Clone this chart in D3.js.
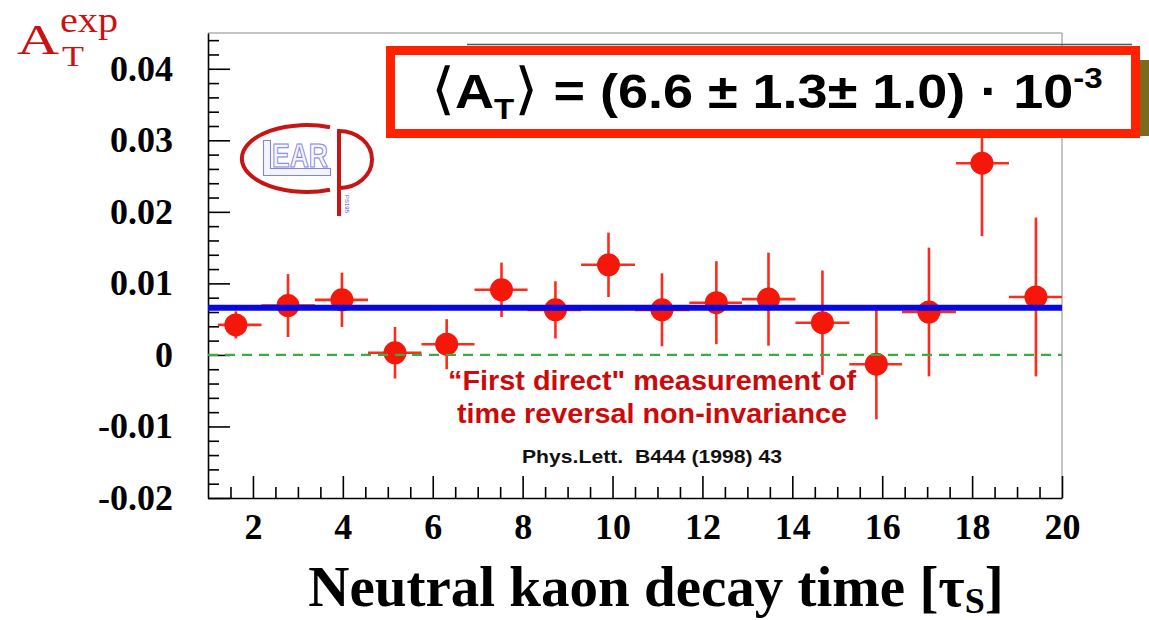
<!DOCTYPE html>
<html>
<head>
<meta charset="utf-8">
<script src="https://cdn.jsdelivr.net/npm/d3@7"></script>
<style>
  body { margin: 0; background: #fff; }
  svg { display: block; }
</style>
</head>
<body>
<svg id="chart" width="1149" height="620"></svg>
<script>
// CPLEAR time-reversal asymmetry versus neutral kaon decay time (units of tau_S)
const binLow    = [1.22, 2.19, 3.38, 4.56, 5.75, 6.93, 8.11, 9.30, 10.50, 11.71, 12.88, 14.07, 15.27, 16.44, 17.64, 18.82];
const binHigh   = [2.19, 3.38, 4.56, 5.75, 6.93, 8.11, 9.30, 10.50, 11.71, 12.88, 14.07, 15.27, 16.44, 17.64, 18.82, 20.00];
const meanTime  = [1.62, 2.78, 3.98, 5.16, 6.31, 7.53, 8.73, 9.91, 11.10, 12.31, 13.47, 14.67, 15.87, 17.04, 18.22, 19.42];
const asymmetry = [0.0042, 0.0069, 0.0077, 0.0003, 0.0015, 0.0091, 0.0063, 0.0126, 0.0063, 0.0073, 0.0078, 0.0045, -0.0013, 0.0060, 0.0268, 0.0081];
const asymError = [0.0019, 0.0044, 0.0038, 0.0036, 0.0035, 0.0038, 0.0040, 0.0045, 0.0051, 0.0058, 0.0065, 0.0073, 0.0077, 0.0090, 0.0102, 0.0111];

// Fitted mean asymmetry with statistical and systematic errors (units of 1e-3)
const averageAT = 0.0066;
const statError = "1.3";
const systError = "1.0";

const xTickValues = [2, 4, 6, 8, 10, 12, 14, 16, 18, 20];
const yTickValues = [-0.02, -0.01, 0, 0.01, 0.02, 0.03, 0.04];
const yTickLabels = ["-0.02", "-0.01", "0", "0.01", "0.02", "0.03", "0.04"];

const svg = d3.select("#chart");
const serif = "'Liberation Serif', 'Times New Roman', serif";
const sans = "'Liberation Sans', Arial, Helvetica, sans-serif";

const x = d3.scaleLinear().domain([1, 20]).range([208, 1062]);
const y = d3.scaleLinear().domain([-0.02, 0.045]).range([498, 33]);

// Frame (top and right edges)
svg.append("path")
  .attr("d", `M${x(1)},${y(0.045)}H${x(20)}V${y(-0.02)}`)
  .attr("fill", "none").attr("stroke", "#8a8a8a").attr("stroke-width", 1);

// Minor ticks
const yMinor = d3.range(-0.02, 0.0441, 0.002).filter(v => Math.abs(Math.round(v * 100) - v * 100) > 1e-6);
const xMinor = d3.range(1.5, 20, 0.5).filter(v => Math.abs(v % 2) > 1e-6);

const yMinorAxis = svg.append("g").attr("transform", `translate(${x(1)},0)`)
  .call(d3.axisLeft(y).tickValues(yMinor).tickSize(-11).tickSizeOuter(0).tickFormat(""));
yMinorAxis.select(".domain").remove();
const xMinorAxis = svg.append("g").attr("transform", `translate(0,${y(-0.02)})`)
  .call(d3.axisBottom(x).tickValues(xMinor).tickSize(-11).tickSizeOuter(0).tickFormat(""));
xMinorAxis.select(".domain").remove();

// Major axes
const yAxis = svg.append("g").attr("transform", `translate(${x(1)},0)`)
  .call(d3.axisLeft(y).tickValues(yTickValues).tickSize(-22).tickSizeOuter(0)
    .tickPadding(35).tickFormat((d, i) => yTickLabels[i]));
const xAxis = svg.append("g").attr("transform", `translate(0,${y(-0.02)})`)
  .call(d3.axisBottom(x).tickValues(xTickValues).tickSize(-22).tickSizeOuter(0)
    .tickPadding(15).tickFormat(d3.format("d")));

[yAxis, xAxis, yMinorAxis, xMinorAxis].forEach(g => {
  g.selectAll("line").attr("stroke", "#000").attr("stroke-width", 1.6);
  g.selectAll(".domain").attr("stroke", "#000").attr("stroke-width", 1.6);
});
yAxis.selectAll("text").attr("font-family", serif).attr("font-weight", "bold")
  .attr("font-size", 36).attr("fill", "#000");
xAxis.selectAll("text").attr("font-family", serif).attr("font-weight", "bold")
  .attr("font-size", 36).attr("fill", "#000");

// Data points with error bars
const pts = d3.range(meanTime.length);
const red = "#f5170a";
const bars = svg.append("g").attr("stroke", "#ff2a1a").attr("stroke-width", 2.6);
bars.selectAll("line.h").data(pts).join("line").attr("class", "h")
  .attr("x1", i => x(binLow[i])).attr("x2", i => x(binHigh[i]))
  .attr("y1", i => y(asymmetry[i])).attr("y2", i => y(asymmetry[i]));
bars.selectAll("line.v").data(pts).join("line").attr("class", "v")
  .attr("x1", i => x(meanTime[i])).attr("x2", i => x(meanTime[i]))
  .attr("y1", i => y(asymmetry[i] - asymError[i])).attr("y2", i => y(asymmetry[i] + asymError[i]));
svg.append("g").selectAll("circle").data(pts).join("circle")
  .attr("cx", i => x(meanTime[i])).attr("cy", i => y(asymmetry[i]))
  .attr("r", 11.5).attr("fill", red);

// Zero line and fitted average
svg.append("line")
  .attr("x1", x(1)).attr("x2", x(20)).attr("y1", y(0)).attr("y2", y(0))
  .attr("stroke", "#3aae3a").attr("stroke-width", 2.2).attr("stroke-dasharray", "10,7");
svg.append("line")
  .attr("x1", x(1)).attr("x2", x(20)).attr("y1", y(averageAT)).attr("y2", y(averageAT))
  .attr("stroke", "#0808e0").attr("stroke-width", 6);

// CPLEAR emblem
const logo = svg.append("g");
logo.append("path")
  .attr("d", "M330,127.2 A65,33.5 0 1 0 330,189.8")
  .attr("fill", "none").attr("stroke", "#c81414").attr("stroke-width", 4);
logo.append("path")
  .attr("d", "M339,216 V131 A33,28.5 0 0 1 339,188")
  .attr("fill", "none").attr("stroke", "#c81414").attr("stroke-width", 4);
logo.append("path")
  .attr("d", "M263.5,140.5 H270.5 V168.5 H330.5 V175.5 H263.5 Z")
  .attr("fill", "#f4f4ff").attr("stroke", "#8484d6").attr("stroke-width", 1.1);
logo.append("text")
  .attr("x", 272).attr("y", 166.5)
  .attr("font-family", "'Liberation Sans Narrow', 'Liberation Sans', sans-serif")
  .attr("font-weight", "bold").attr("font-size", 34)
  .attr("textLength", 56).attr("lengthAdjust", "spacingAndGlyphs")
  .attr("fill", "#f4f4ff").attr("stroke", "#8484d6").attr("stroke-width", 1.1)
  .text("EAR");
logo.append("text")
  .attr("transform", "translate(345,195) rotate(90)")
  .attr("font-family", sans).attr("font-size", 6).attr("fill", "#5050c8")
  .text("PS195");

// Annotations
const note = svg.append("g").attr("text-anchor", "middle").attr("font-family", sans).attr("font-weight", "bold");
note.append("text").attr("x", 652).attr("y", 390).attr("font-size", 27).attr("fill", "#cc0a0a")
  .attr("textLength", 408).attr("lengthAdjust", "spacingAndGlyphs")
  .text("\u201CFirst direct\" measurement of");
note.append("text").attr("x", 652).attr("y", 423).attr("font-size", 27).attr("fill", "#cc0a0a")
  .attr("textLength", 390).attr("lengthAdjust", "spacingAndGlyphs")
  .text("time reversal non-invariance");
note.append("text").attr("x", 652).attr("y", 463).attr("font-size", 19).attr("fill", "#111")
  .attr("xml:space", "preserve")
  .attr("textLength", 260).attr("lengthAdjust", "spacingAndGlyphs")
  .text("Phys.Lett.  B444 (1998) 43");

// Result box
const box = svg.append("g");
box.append("line").attr("x1", 467).attr("x2", 1132).attr("y1", 44.5).attr("y2", 44.5)
  .attr("stroke", "#555").attr("stroke-width", 1.5);
box.append("rect").attr("x", 1140).attr("y", 60).attr("width", 9).attr("height", 76).attr("fill", "#7d6a1e");
box.append("rect").attr("x", 390.5).attr("y", 50.5).attr("width", 745).attr("height", 83)
  .attr("fill", "#fff").attr("stroke", "#ff2200").attr("stroke-width", 9);

const fx0 = 431, fx1 = 1103;
const formula = box.append("text").attr("x", fx0).attr("y", 108)
  .attr("font-family", sans).attr("font-weight", "bold").attr("font-size", 49).attr("fill", "#000");
formula.append("tspan").attr("font-family", "'DejaVu Sans', sans-serif").attr("font-weight", "normal")
  .attr("font-size", 56).text("\u27E8");
formula.append("tspan").text("A");
formula.append("tspan").attr("font-size", 30).attr("dy", 11).text("T");
formula.append("tspan").attr("font-family", "'DejaVu Sans', sans-serif").attr("font-weight", "normal")
  .attr("font-size", 56).attr("dy", -11).text("\u27E9");
formula.append("tspan").attr("xml:space", "preserve")
  .text(` = (${(averageAT * 1e3).toFixed(1)} \u00B1 ${statError}\u00B1 ${systError}) \u00B7 10`);
formula.append("tspan").attr("font-size", 30).attr("dy", -20).text("-3");
const fb = formula.node().getBBox();
const sx = (fx1 - fx0) / fb.width;
formula.attr("transform", `translate(${fx0},0) scale(${sx},1) translate(${-fb.x},0)`);

// Axis titles: A with subscript T and superscript exp
const titleY = svg.append("text").attr("font-family", serif).attr("fill", "#cc1111");
titleY.append("tspan").attr("x", 17).attr("y", 54).attr("font-size", 42)
  .attr("textLength", 42).attr("lengthAdjust", "spacingAndGlyphs").text("A");
titleY.append("tspan").attr("x", 62).attr("y", 66).attr("font-size", 30)
  .attr("textLength", 22).attr("lengthAdjust", "spacingAndGlyphs").text("T");
titleY.append("tspan").attr("x", 60).attr("y", 32).attr("font-size", 35)
  .attr("textLength", 58).attr("lengthAdjust", "spacingAndGlyphs").text("exp");

const xTitle = svg.append("text").attr("x", 656).attr("y", 606).attr("text-anchor", "middle")
  .attr("font-family", serif).attr("font-weight", "bold").attr("font-size", 57).attr("fill", "#000");
xTitle.append("tspan").text("Neutral kaon decay time [\u03C4");
xTitle.append("tspan").attr("font-size", 36).attr("dy", 7).text("S");
xTitle.append("tspan").attr("dy", -7).text("]");
</script>
</body>
</html>
